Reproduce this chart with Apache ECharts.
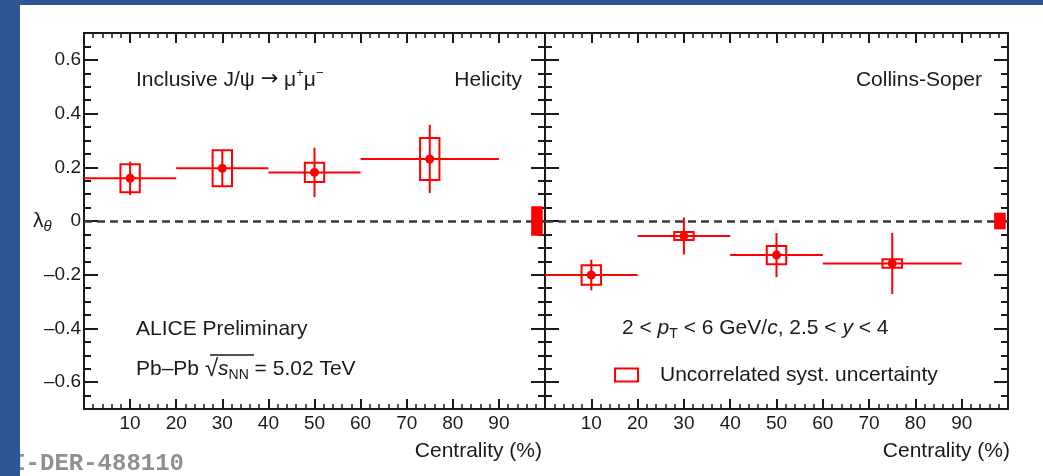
<!DOCTYPE html>
<html>
<head>
<meta charset="utf-8">
<script src="https://cdn.jsdelivr.net/npm/echarts@6/dist/echarts.min.js"></script>
<style>
  html, body { margin: 0; padding: 0; background: #fff; }
  #chart { width: 1043px; height: 476px; }
</style>
</head>
<body>
<div id="chart"></div>
<script>
// centrality bins (%)
var binCenter = [10, 30, 50, 75];
var binLow = [0, 20, 40, 60];
var binHigh = [20, 40, 60, 90];

// lambda_theta, helicity frame
var helValue = [0.159, 0.196, 0.181, 0.231];
var helStat = [0.062, 0.065, 0.092, 0.127];
var helSyst = [0.052, 0.067, 0.036, 0.078];
var helGlobal = 0.055;

// lambda_theta, Collins-Soper frame
var csValue = [-0.201, -0.056, -0.127, -0.158];
var csStat = [0.057, 0.069, 0.082, 0.114];
var csSyst = [0.036, 0.015, 0.034, 0.016];
var csGlobal = 0.031;

var yTickLabels = [-0.6, -0.4, -0.2, 0, 0.2, 0.4, 0.6];
var xTickLabels = [10, 20, 30, 40, 50, 60, 70, 80, 90];

var RED = '#ff0000';
var INK = '#1a1a1a';
var FONT = '"Liberation Sans", Arial, Helvetica, sans-serif';
var boxHalf = 2.1;          // half width of the syst. boxes (in % centrality)
var globalBox = [97, 99.5]; // where the global uncertainty box sits

function rows(values, stat, syst) {
  return binCenter.map(function (x, i) {
    return [x, values[i], binLow[i], binHigh[i], stat[i], syst[i]];
  });
}

function renderPoint(params, api) {
  var x = api.value(0), y = api.value(1);
  var c = api.coord([x, y]);
  var lo = api.coord([api.value(2), y]);
  var hi = api.coord([api.value(3), y]);
  var sTop = api.coord([x, y + api.value(4)]);
  var sBot = api.coord([x, y - api.value(4)]);
  var bTL = api.coord([x - boxHalf, y + api.value(5)]);
  var bBR = api.coord([x + boxHalf, y - api.value(5)]);
  var line = { stroke: RED, lineWidth: 2 };
  return {
    type: 'group',
    children: [
      { type: 'line', shape: { x1: lo[0], y1: c[1], x2: hi[0], y2: c[1] }, style: line },
      { type: 'line', shape: { x1: c[0], y1: sTop[1], x2: c[0], y2: sBot[1] }, style: line },
      { type: 'rect', shape: { x: bTL[0], y: bTL[1], width: bBR[0] - bTL[0], height: bBR[1] - bTL[1] },
        style: { fill: 'none', stroke: RED, lineWidth: 2 } },
      { type: 'circle', shape: { cx: c[0], cy: c[1], r: 4.5 }, style: { fill: RED } }
    ]
  };
}

function renderGlobal(params, api) {
  var g = api.value(0);
  var tl = api.coord([globalBox[0], g]);
  var br = api.coord([globalBox[1], -g]);
  return {
    type: 'rect',
    shape: { x: tl[0], y: tl[1], width: br[0] - tl[0], height: br[1] - tl[1] },
    style: { fill: RED }
  };
}

function xAxisDef(grid, side) {
  return {
    type: 'value', gridIndex: grid, position: side, min: 0, max: 100, interval: 10,
    axisLine: { show: true, onZero: false, lineStyle: { color: INK, width: 2 } },
    axisTick: { show: true, inside: true, length: 10, lineStyle: { color: INK, width: 2 } },
    minorTick: { show: true, splitNumber: 5, length: 5, lineStyle: { color: INK, width: 1.5 } },
    axisLabel: {
      show: side === 'bottom', customValues: xTickLabels, margin: 5,
      color: INK, fontSize: 19, fontFamily: FONT
    },
    splitLine: { show: false }
  };
}

function yMinorDef(grid, side) {
  return {
    type: 'value', gridIndex: grid, position: side, min: -0.7, max: 0.7, interval: 0.05,
    axisLine: { show: true, onZero: false, lineStyle: { color: INK, width: 2 } },
    axisTick: { show: true, inside: true, length: 7, lineStyle: { color: INK, width: 2 } },
    axisLabel: { show: false },
    splitLine: { show: false }
  };
}

function yMajorDef(grid, side, labels) {
  return {
    type: 'value', gridIndex: grid, position: side, min: -0.7, max: 0.7,
    axisLine: { show: false, onZero: false },
    axisTick: { show: true, inside: true, length: 14, customValues: yTickLabels,
      lineStyle: { color: INK, width: 2 } },
    axisLabel: {
      show: labels, customValues: yTickLabels, margin: 3,
      color: INK, fontSize: 19, fontFamily: FONT,
      formatter: function (v) {
        if (Math.abs(v) < 1e-9) return '0';
        return (v < 0 ? '\u2013' : '') + Math.abs(v).toFixed(1);
      }
    },
    splitLine: { show: false }
  };
}

var rich = {
  n: { fontSize: 21, fontFamily: FONT, fill: INK, lineHeight: 26 },
  i: { fontSize: 21, fontFamily: FONT, fontStyle: 'italic', fill: INK, lineHeight: 26 },
  ar: { fontSize: 21, fontFamily: '"DejaVu Sans", sans-serif', fill: INK, lineHeight: 26 },
  sup: { fontSize: 13, fontFamily: FONT, fill: INK, lineHeight: 14, verticalAlign: 'top' },
  sub: { fontSize: 14, fontFamily: FONT, fill: INK, lineHeight: 14, verticalAlign: 'bottom' },
  subi: { fontSize: 15, fontFamily: FONT, fontStyle: 'italic', fill: INK, lineHeight: 14, verticalAlign: 'bottom' },
  sq: { fontSize: 24, fontFamily: FONT, fill: INK, lineHeight: 26 }
};

function label(x, y, text, align) {
  return {
    type: 'text', x: x, y: y, z: 10,
    style: { text: text, rich: rich, fill: INK, fontSize: 21, fontFamily: FONT,
      textAlign: align || 'left', textVerticalAlign: 'middle' }
  };
}

var zeroLine = {
  silent: true, symbol: ['none', 'none'], label: { show: false },
  lineStyle: { color: '#3a3a3a', width: 2.5, type: [8, 5] },
  data: [{ yAxis: 0 }]
};

var chart = echarts.init(document.getElementById('chart'));
chart.setOption({
  backgroundColor: '#ffffff',
  animation: false,
  grid: [
    { left: 84, top: 33, width: 461, height: 376 },
    { left: 545, top: 33, width: 463, height: 376 }
  ],
  xAxis: [
    xAxisDef(0, 'bottom'), xAxisDef(0, 'top'),
    xAxisDef(1, 'bottom'), xAxisDef(1, 'top')
  ],
  yAxis: [
    yMinorDef(0, 'left'), yMajorDef(0, 'left', true),
    yMinorDef(0, 'right'), yMajorDef(0, 'right', false),
    yMinorDef(1, 'left'), yMajorDef(1, 'left', false),
    yMinorDef(1, 'right'), yMajorDef(1, 'right', false)
  ],
  series: [
    {
      type: 'custom', name: 'Helicity', xAxisIndex: 0, yAxisIndex: 0,
      renderItem: renderPoint, data: rows(helValue, helStat, helSyst),
      encode: { x: 0, y: 1 }, z: 5, markLine: zeroLine
    },
    {
      type: 'custom', name: 'Helicity global', xAxisIndex: 0, yAxisIndex: 0,
      renderItem: renderGlobal, data: [[helGlobal]], z: 6
    },
    {
      type: 'custom', name: 'Collins-Soper', xAxisIndex: 2, yAxisIndex: 4,
      renderItem: renderPoint, data: rows(csValue, csStat, csSyst),
      encode: { x: 0, y: 1 }, z: 5, markLine: zeroLine
    },
    {
      type: 'custom', name: 'Collins-Soper global', xAxisIndex: 2, yAxisIndex: 4,
      renderItem: renderGlobal, data: [[csGlobal]], z: 6
    }
  ],
  graphic: [
    label(136, 80, '{n|Inclusive J/\u03c8 }{ar|\u2192}{n| \u03bc}{sup|+}{n|\u03bc}{sup|\u2212}'),
    label(522, 80, '{n|Helicity}', 'right'),
    label(982, 80, '{n|Collins-Soper}', 'right'),
    label(136, 329, '{n|ALICE Preliminary}'),
    label(136, 369, '{n|Pb\u2013Pb }{sq|\u221a}{i|s}{sub|NN}{n| = 5.02 TeV}'),
    { type: 'line', z: 10, shape: { x1: 210, y1: 355, x2: 254, y2: 355 }, style: { stroke: INK, lineWidth: 1.5 } },
    label(622, 328, '{n|2 < }{i|p}{sub|T}{n| < 6 GeV/}{i|c}{n|, 2.5 < }{i|y}{n| < 4}'),
    { type: 'rect', z: 10, shape: { x: 615, y: 368.5, width: 23, height: 13 },
      style: { fill: 'none', stroke: RED, lineWidth: 2 } },
    label(660, 375, '{n|Uncorrelated syst. uncertainty}'),
    label(33, 221, '{n|\u03bb}{subi|\u03b8}'),
    label(542, 451, '{n|Centrality (%)}', 'right'),
    label(1010, 451, '{n|Centrality (%)}', 'right'),
    { type: 'text', x: 184, y: 464, z: 10,
      style: { text: 'ALI-DER-488110', fill: '#8f8f8f', fontSize: 24, fontWeight: 'bold',
        fontFamily: '"Liberation Mono", "DejaVu Sans Mono", monospace',
        textAlign: 'right', textVerticalAlign: 'middle' } },
    { type: 'rect', z: 100, shape: { x: 0, y: 0, width: 1043, height: 5 }, style: { fill: '#2e5596' } },
    { type: 'rect', z: 100, shape: { x: 0, y: 0, width: 20, height: 476 }, style: { fill: '#2e5596' } }
  ]
});
</script>
</body>
</html>
